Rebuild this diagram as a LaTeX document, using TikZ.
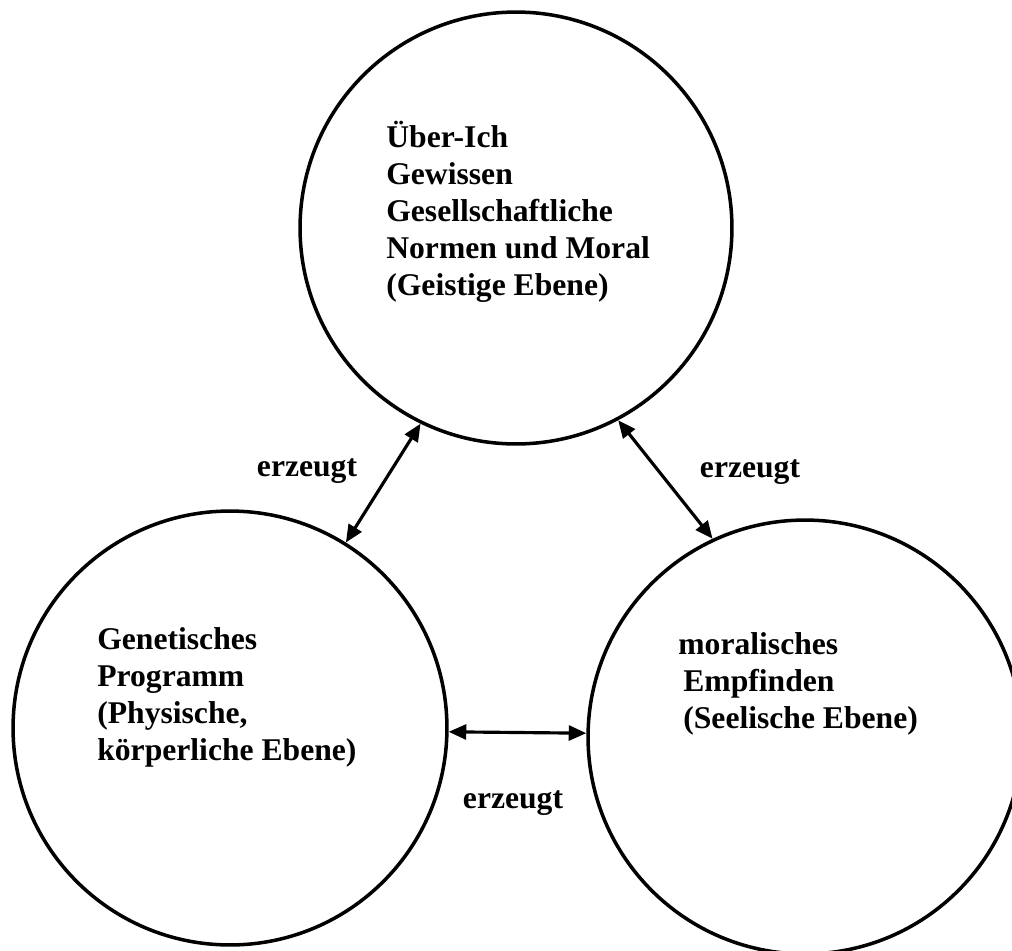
\documentclass[tikz,border=0pt]{standalone}
\usepackage{fontspec}
\setmainfont{Liberation Serif}
\usetikzlibrary{arrows.meta}
\tikzset{
	% ------- every something
	every node/.style={
		font=\fontsize{18}{21}\selectfont\bfseries,
	},
	% ------- custom
	plane/.style={
		draw, circle,
		line width=2pt,
		inner sep=0pt,
		minimum size=8.68cm,
	},
	% base = baseline of the last line
	plane text/.style={
		align=left,
		anchor=base west,
		inner sep=0pt,
	},
	relation/.style={
		line width=1.8pt,
		{Triangle[length=10pt,width=8.5pt]}-{Triangle[length=10pt,width=8.5pt]},
	},
	relation label/.style={
		anchor=base,
		inner sep=0pt,
	},
}

\begin{document}
\begin{tikzpicture}[x=0.02cm, y=-0.02cm]

% frame %{{{2

	\useasboundingbox (0,0) rectangle (1012,951);

% coordinates %{{{2

	\coordinate (T) at (516,228);
	\coordinate (L) at (230,728);
	\coordinate (R) at (805,737);

% circles %{{{2

	\node[plane, minimum size=8.64cm] (ueber) at (T) {};
	\node[plane] (genetik) at (L) {};
	\node[plane] (moral) at (R) {};

% circle texts %{{{2

	\node[plane text] (uebertext) at (386,295)
		{Über-Ich\\Gewissen\\Gesellschaftliche\\Normen und Moral\\(Geistige Ebene)};
	\node[plane text] (genetiktext) at (97,760)
		{Genetisches\\Programm\\(Physische,\\körperliche Ebene)};
	\node[plane text] (moraltext) at (678,728)
		{moralisches\\\hspace*{0.1cm}Empfinden\\\hspace*{0.1cm}(Seelische Ebene)};

% arrows %{{{2

	\draw[relation] (ueber.-116.7) -- (genetik.58.5);
	\draw[relation] (ueber.-62.5) -- (moral.115.6);
	\draw[relation] (genetik.-1.8) -- (moral.179.5);

% arrow labels %{{{2

	\node[relation label] (erzeugtlinks) at (307,476) {erzeugt};
	\node[relation label] (erzeugtrechts) at (750,477) {erzeugt};
	\node[relation label] (erzeugtunten) at (513,808) {erzeugt};

% closing %{{{2

\end{tikzpicture}
\end{document}
